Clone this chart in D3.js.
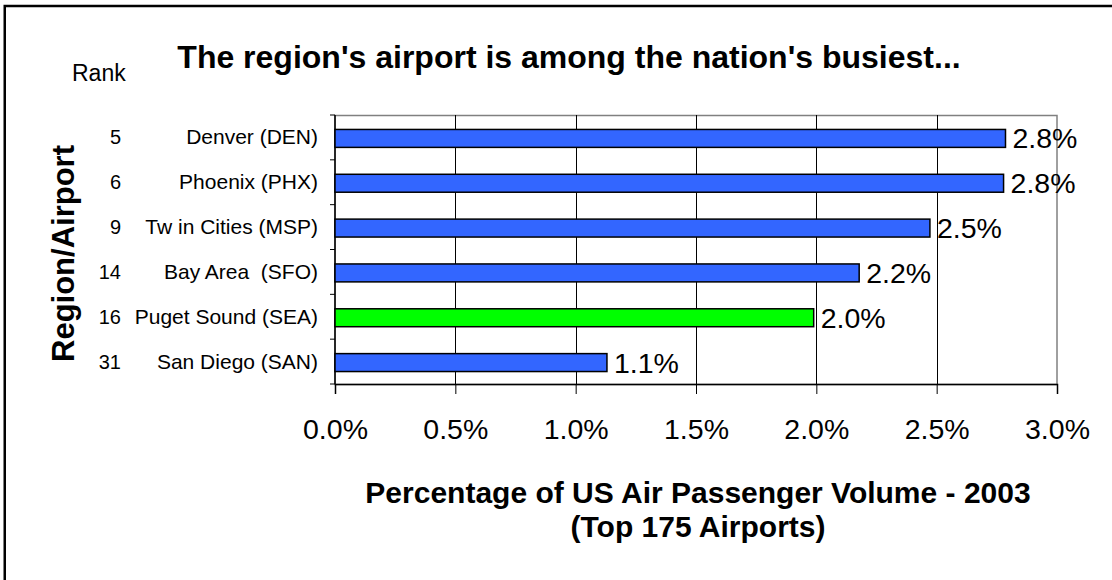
<!DOCTYPE html>
<html>
<head>
<meta charset="utf-8">
<script src="https://cdn.jsdelivr.net/npm/d3@7"></script>
<style>
  html, body { margin: 0; padding: 0; background: #fff; }
  svg { display: block; font-family: "Liberation Sans", Arial, sans-serif; }
</style>
</head>
<body>
<svg id="chart" width="1112" height="580"></svg>
<script>
// ---- data ----
const airports = ["Denver (DEN)", "Phoenix (PHX)", "Tw in Cities (MSP)", "Bay Area  (SFO)", "Puget Sound (SEA)", "San Diego (SAN)"];
const ranks = ["5", "6", "9", "14", "16", "31"];
const shares = [0.02786, 0.02778, 0.02472, 0.02178, 0.01989, 0.01130];
const highlight = [false, false, false, false, true, false];
const xTicks = [0, 0.005, 0.010, 0.015, 0.020, 0.025, 0.030];
const titleText = "The region's airport is among the nation's busiest...";
const xTitle = ["Percentage of US Air Passenger Volume - 2003", "(Top 175 Airports)"];
const yTitle = "Region/Airport";
const rankTitle = "Rank";

// ---- layout ----
const svg = d3.select("#chart");
const plot = { left: 335, top: 115, right: 1057, bottom: 384 };

const x = d3.scaleLinear().domain([0, 0.03]).range([plot.left, plot.right]);
const yBand = d3.scaleBand().domain(airports).range([plot.top, plot.bottom]).padding(0);
const yBar = d3.scaleBand().domain(airports).range([plot.top + 1, plot.bottom + 1])
  .paddingInner(0.6).paddingOuter(0.3);
const fmt = d3.format(".1%");

// outer border
svg.append("rect").attr("x", 4.75).attr("y", 6).attr("width", 1200).attr("height", 700)
  .attr("fill", "none").attr("stroke", "#000").attr("stroke-width", 2.5);

// plot area border
svg.append("rect").attr("x", plot.left).attr("y", plot.top + 0.5)
  .attr("width", plot.right - plot.left).attr("height", plot.bottom - plot.top)
  .attr("fill", "#fff").attr("stroke", "#808080").attr("stroke-width", 1.5);

// gridlines
svg.append("g").selectAll("line").data(xTicks.slice(1, -1)).join("line")
  .attr("x1", d => Math.round(x(d)) + 0.5).attr("x2", d => Math.round(x(d)) + 0.5)
  .attr("y1", plot.top).attr("y2", plot.bottom)
  .attr("stroke", "#000").attr("stroke-width", 1);

// x axis
const xAxis = d3.axisBottom(x).tickValues(xTicks).tickFormat(fmt).tickSize(10).tickPadding(25);
const gx = svg.append("g").attr("transform", `translate(0,${plot.bottom})`).call(xAxis);
gx.select(".domain").attr("stroke", "#000").attr("stroke-width", 1.5);
gx.selectAll(".tick line").attr("stroke", "#000");
gx.selectAll(".tick text").attr("font-size", 28.5).attr("fill", "#000")
  .attr("font-family", "'Liberation Sans', Arial, sans-serif");

// y axis (tick marks at category boundaries)
const boundaries = airports.map(a => yBand(a)).concat([plot.bottom]);
svg.append("line").attr("x1", plot.left).attr("x2", plot.left)
  .attr("y1", plot.top).attr("y2", plot.bottom).attr("stroke", "#000").attr("stroke-width", 1.5);
svg.append("g").selectAll("line").data(boundaries).join("line")
  .attr("x1", plot.left - 5).attr("x2", plot.left)
  .attr("y1", d => d).attr("y2", d => d).attr("stroke", "#000");

// bars
svg.append("g").selectAll("rect").data(airports).join("rect")
  .attr("x", x(0))
  .attr("y", d => yBar(d))
  .attr("width", (d, i) => x(shares[i]) - x(0))
  .attr("height", yBar.bandwidth())
  .attr("fill", (d, i) => highlight[i] ? "#00FF00" : "#3366FF")
  .attr("stroke", "#000").attr("stroke-width", 1.5);

// value labels
svg.append("g").selectAll("text").data(airports).join("text")
  .attr("x", (d, i) => x(shares[i]) + 7)
  .attr("y", d => yBar(d) + yBar.bandwidth() / 2 + 10)
  .attr("font-size", 28.5).attr("fill", "#000")
  .text((d, i) => fmt(shares[i]));

// category labels
svg.append("g").selectAll("text").data(airports).join("text")
  .attr("x", 318)
  .attr("y", d => yBand(d) + yBand.bandwidth() / 2 + 7)
  .attr("text-anchor", "end").attr("font-size", 21).attr("fill", "#000")
  .attr("xml:space", "preserve").style("white-space", "pre")
  .text(d => d);

// rank labels
svg.append("g").selectAll("text").data(airports).join("text")
  .attr("x", 121)
  .attr("y", d => yBand(d) + yBand.bandwidth() / 2 + 7)
  .attr("text-anchor", "end").attr("font-size", 20).attr("fill", "#000")
  .text((d, i) => ranks[i]);

// "Rank" header
svg.append("text").attr("x", 72).attr("y", 81).attr("font-size", 23).attr("fill", "#000").text(rankTitle);

// title
svg.append("text").attr("x", 569).attr("y", 68).attr("text-anchor", "middle")
  .attr("font-size", 32).attr("font-weight", "bold").attr("fill", "#000").text(titleText);

// y axis title
svg.append("text").attr("transform", "translate(74,253.5) rotate(-90)")
  .attr("text-anchor", "middle").attr("font-size", 31).attr("font-weight", "bold")
  .attr("fill", "#000").text(yTitle);

// x axis title
svg.append("g").selectAll("text").data(xTitle).join("text")
  .attr("x", 698).attr("y", (d, i) => 503 + i * 34)
  .attr("text-anchor", "middle").attr("font-size", 30).attr("font-weight", "bold")
  .attr("fill", "#000").text(d => d);
</script>
</body>
</html>
